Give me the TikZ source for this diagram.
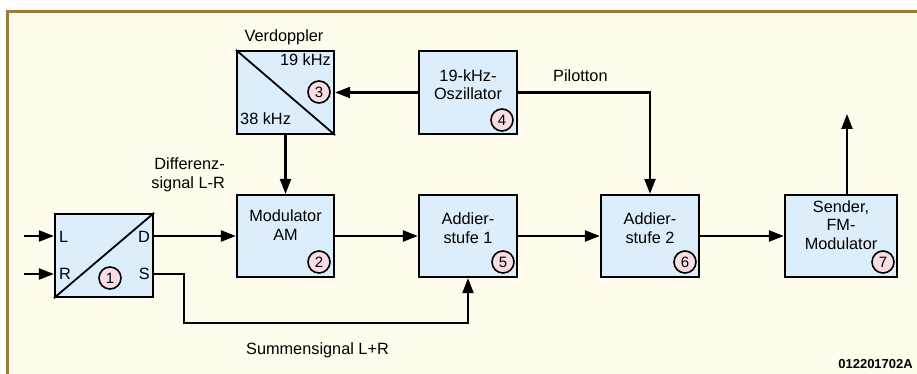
\documentclass[tikz,border=0pt]{standalone}
\usepackage{fontspec}
\setmainfont{Liberation Sans}
\usetikzlibrary{arrows.meta}
\definecolor{frame}{HTML}{A07A3A}
\definecolor{paper}{HTML}{FFFCEE}
\definecolor{boxfill}{HTML}{DCEEFB}
\definecolor{numfill}{HTML}{FADDE2}
\tikzset{
  blk/.style={draw, line width=2.2pt, fill=boxfill, inner sep=0pt},
  num/.style={draw, circle, line width=1.6pt, fill=numfill, minimum size=22pt, inner sep=0pt, font=\fontsize{15}{15}\selectfont},
  txt/.style={font=\fontsize{16.3}{18.5}\selectfont, align=center, inner sep=0pt},
  sig/.style={line width=2.2pt, -{Triangle[length=15pt,width=11pt]}},
}
\begin{document}
\begin{tikzpicture}[x=1pt,y=-1pt]
\useasboundingbox (0,0) rectangle (917,374);
% sheet and its brown edge on top and left
\fill[paper] (7.5,11.5) rectangle (917,374);
\draw[frame, line width=3.2pt] (7.5,374) -- (7.5,11.5) -- (917,11.5);

% blocks
\node[blk, minimum width=98pt, minimum height=83pt] (b1) at (104,255.5) {};
\node[blk, minimum width=97pt, minimum height=82pt] (b2) at (285.5,236) {};
\node[blk, minimum width=97pt, minimum height=83pt] (b3) at (285.5,92.5) {};
\node[blk, minimum width=98pt, minimum height=83pt] (b4) at (468,92.5) {};
\node[blk, minimum width=98pt, minimum height=82pt] (b5) at (468,236) {};
\node[blk, minimum width=98pt, minimum height=82pt] (b6) at (650,236) {};
\node[blk, minimum width=112pt, minimum height=82pt] (b7) at (841,236) {};

% diagonals of the two converter blocks
\draw[line width=1.8pt] (b1.south west) -- (b1.north east);
\draw[line width=1.8pt] (b3.north west) -- (b3.south east);

% block texts
\node[txt] (t2) at (285.5,225) {Modulator\\AM};
\node[txt] (t4) at (468,84.5) {19-kHz-\\Oszillator};
\node[txt] (t5) at (468,228) {Addier-\\stufe 1};
\node[txt] (t6) at (650,228) {Addier-\\stufe 2};
\node[txt] (t7) at (841,225) {Sender,\\FM-\\Modulator};
\node[txt, anchor=east] (t3a) at (331,60) {19 kHz};
\node[txt, anchor=west] (t3b) at (240,119) {38 kHz};
\node[txt, anchor=west] (tL) at (59,237) {L};
\node[txt, anchor=west] (tR) at (59,274) {R};
\node[txt, anchor=east] (tD) at (150,237) {D};
\node[txt, anchor=east] (tS) at (150,274) {S};

% block numbers
\node[num] (n1) at (110,278) {1};
\node[num] (n2) at (319,262) {2};
\node[num] (n3) at (319,92) {3};
\node[num] (n4) at (502,120) {4};
\node[num] (n5) at (503,262) {5};
\node[num] (n6) at (685,262) {6};
\node[num] (n7) at (883,262) {7};

% free ends
\coordinate (inL) at (24,236);
\coordinate (inR) at (24,274);
\coordinate (out) at (847,114);

% signal paths
\draw[sig] (inL) -- (inL -| b1.west);
\draw[sig] (inR) -- (inR -| b1.west);
\draw[sig] (b1.east |- 0,236) -- (b2.west |- 0,236);
\draw[sig] (b2.east) -- (b5.west);
\draw[sig] (b5.east) -- (b6.west);
\draw[sig] (b6.east) -- (b7.west);
\draw[sig] (b4.west) -- (b3.east);
\draw[sig] (b3.south) -- (b2.north);
\draw[sig] (b4.east) -| (b6.north);
\draw[sig] (b1.east |- 0,274) -- (184,274) -- (184,323) -| (b5.south);
\draw[sig] (b7.north -| out) -- (out);

% signal names
\node[txt] (lv) at (284,37) {Verdoppler};
\node[txt, align=right, anchor=east] (ld) at (225,175) {Differenz-\\signal L-R};
\node[txt, anchor=west] (lp) at (553,76) {Pilotton};
\node[txt] (ls) at (317.5,350) {Summensignal L+R};
\node[font=\bfseries\fontsize{13}{13}\selectfont, anchor=east, inner sep=0pt] (code) at (913,364) {012201702A};
\end{tikzpicture}
\end{document}
